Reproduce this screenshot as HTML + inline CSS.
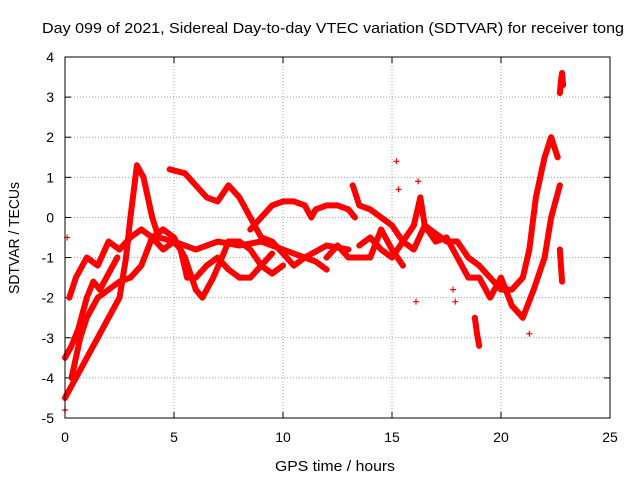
<!DOCTYPE html>
<html><head><meta charset="utf-8"><style>
body{margin:0;background:#fff}
svg{display:block;font-family:"Liberation Sans",sans-serif}
</style></head><body>
<svg id="chart" width="640" height="480" viewBox="0 0 640 480">
<text x="333" y="33" font-size="15" textLength="582" lengthAdjust="spacingAndGlyphs" text-anchor="middle">Day 099 of 2021, Sidereal Day-to-day VTEC variation (SDTVAR) for receiver tong</text>
<g id="grid"></g>
<g id="ticks"></g>
<g id="series"></g>
<rect x="65" y="57" width="545" height="361" fill="none" stroke="#000"/>
<text x="335" y="471" font-size="15" textLength="120" lengthAdjust="spacingAndGlyphs" text-anchor="middle">GPS time / hours</text>
<text transform="translate(19,238) rotate(-90)" font-size="15" textLength="112" lengthAdjust="spacingAndGlyphs" text-anchor="middle">SDTVAR / TECUs</text>
</svg>
<script>
const xTicks=[0,5,10,15,20,25];
const yTicks=[-5,-4,-3,-2,-1,0,1,2,3,4];
const trackA=[[0,-4.5],[0.5,-4],[1,-3.5],[1.5,-3],[2,-2.5],[2.5,-2],[2.8,-1],[3,0],[3.3,1.3],[3.6,1],[4,0],[4.3,-0.5],[5,-0.6],[6,-0.8],[7,-0.6],[8,-0.7],[9,-0.6],[10,-0.8],[11,-1],[12,-0.7],[13,-0.8]];
const trackB=[[4.8,1.2],[5.5,1.1],[6,0.8],[6.5,0.5],[7,0.4],[7.5,0.8],[8,0.5],[8.5,0],[9,-0.5],[9.5,-0.6],[10,-0.9],[10.5,-1.2],[11,-1],[11.5,-1.1],[12,-1.3]];
const trackC=[[8.5,-0.3],[9,0],[9.5,0.3],[10,0.4],[10.5,0.4],[11,0.3],[11.3,0],[11.5,0.2],[12,0.3],[12.5,0.3],[13,0.2],[13.3,0]];
const trackD=[[0.2,-2],[0.5,-1.5],[1,-1],[1.5,-1.2],[2,-0.6],[2.5,-0.8],[3,-0.5],[3.5,-0.3],[4,-0.5],[4.5,-0.3],[5,-0.5],[5.5,-1],[6,-1.8],[6.3,-2],[6.8,-1.5],[7.2,-1],[7.5,-0.6],[8,-0.6],[8.5,-0.8],[9,-1.2],[9.5,-1.4],[10,-1.2]];
const trackE=[[0.3,-4],[0.7,-3],[1,-2.5],[1.5,-2],[2,-1.8],[2.5,-1.6],[3,-1.5],[3.5,-1.2],[4,-0.5],[4.5,-0.8],[5,-0.6],[5.3,-0.8],[5.6,-1.5],[6,-1.5],[6.5,-1.2],[7,-1],[7.5,-1.3],[8,-1.5],[8.5,-1.5],[9,-1.2],[9.5,-0.9]];
const trackF=[[13.2,0.8],[13.5,0.3],[14,0.2],[14.5,0],[15,-0.2],[15.5,-0.6],[16,-0.8],[16.5,-0.2],[17,-0.6],[17.5,-0.5],[18,-1],[18.5,-1.5],[19,-1.5],[19.5,-2],[20,-1.5],[20.5,-2.2],[21,-2.5],[21.5,-1.8],[22,-1],[22.3,0],[22.7,0.8]];
const trackG=[[13.5,-0.7],[14,-0.5],[14.5,-0.8],[15,-1],[15.5,-0.6],[16,-0.2],[16.3,0.5],[16.5,-0.2],[17,-0.4],[17.5,-0.6],[18,-0.6],[18.5,-1],[19,-1.2],[19.5,-1.5],[20,-1.8],[20.5,-1.8],[21,-1.5],[21.3,-0.8],[21.6,0.5],[22,1.5],[22.3,2],[22.6,1.5]];
const trackH=[[12,-1],[12.5,-0.7],[13,-1],[13.5,-1],[14,-1],[14.5,-0.3],[15,-0.8],[15.5,-1.2]];
const trackI=[[22.7,3.1],[22.75,3.4],[22.8,3.6],[22.85,3.3]];
const trackJ=[[22.7,-0.8],[22.75,-1.2],[22.8,-1.6]];
const trackK=[[18.8,-2.5],[18.9,-2.9],[19,-3.2]];
const trackL=[[0,-3.5],[0.3,-3.2],[0.6,-2.8],[1,-2],[1.3,-1.6],[1.6,-1.8],[2,-1.4],[2.4,-1]];
const isolated=[[15.2,1.4],[15.3,0.7],[16.2,0.9],[16.1,-2.1],[17.8,-1.8],[17.9,-2.1],[0,-4.8],[0.1,-0.5],[21.3,-2.9]];
const tracks=[trackA,trackB,trackC,trackD,trackE,trackF,trackG,trackH,trackI,trackJ,trackK,trackL];
const X=v=>65+v*545/25, Y=v=>418-(v+5)*361/9;
const NS='http://www.w3.org/2000/svg';
const mk=(t,a,p)=>{const e=document.createElementNS(NS,t);for(const k in a)e.setAttribute(k,a[k]);p.appendChild(e);return e;};
const grid=document.getElementById('grid'),ticks=document.getElementById('ticks'),ser=document.getElementById('series');
xTicks.forEach(t=>{
 if(t>0&&t<25){const l=mk('line',{x1:X(t),x2:X(t),y1:57,y2:418,stroke:'#a0a0a0','stroke-dasharray':'1,2'},grid);
 
 }
 mk('line',{x1:X(t),x2:X(t),y1:418,y2:412,stroke:'#000'},ticks);
 mk('line',{x1:X(t),x2:X(t),y1:57,y2:63,stroke:'#000'},ticks);
 const tx=mk('text',{x:X(t),y:442,'font-size':14,'text-anchor':'middle'},ticks);tx.textContent=t;
 
 
});
yTicks.forEach(t=>{
 if(t>-5&&t<4){const l=mk('line',{x1:65,x2:610,y1:Y(t),y2:Y(t),stroke:'#a0a0a0','stroke-dasharray':'1,2'},grid);
 
 }
 mk('line',{x1:65,x2:71,y1:Y(t),y2:Y(t),stroke:'#000'},ticks);
 mk('line',{x1:604,x2:610,y1:Y(t),y2:Y(t),stroke:'#000'},ticks);
 const tx=mk('text',{x:54,y:Y(t)+5,'font-size':14,'text-anchor':'end'},ticks);tx.textContent=t;
 
 
});
function plus(x,y){return `M${x-3},${y}h6M${x},${y-3}v6`;}
tracks.forEach(tr=>{
 const p=mk('path',{d:tr.map((q,i)=>(i?'L':'M')+X(q[0])+','+Y(q[1])).join(''),fill:'none',stroke:'#ff0000','stroke-width':6,'stroke-linejoin':'round','stroke-linecap':'round'},ser);
 
 
 const m=mk('path',{d:tr.map(q=>plus(X(q[0]),Y(q[1]))).join(''),stroke:'#ff0000','stroke-width':1.2,fill:'none'},ser);
 
 
});
const iso=mk('path',{d:isolated.map(q=>plus(X(q[0]),Y(q[1]))).join(''),stroke:'#ff0000','stroke-width':1.2,fill:'none'},ser);


</script>
</body></html>
